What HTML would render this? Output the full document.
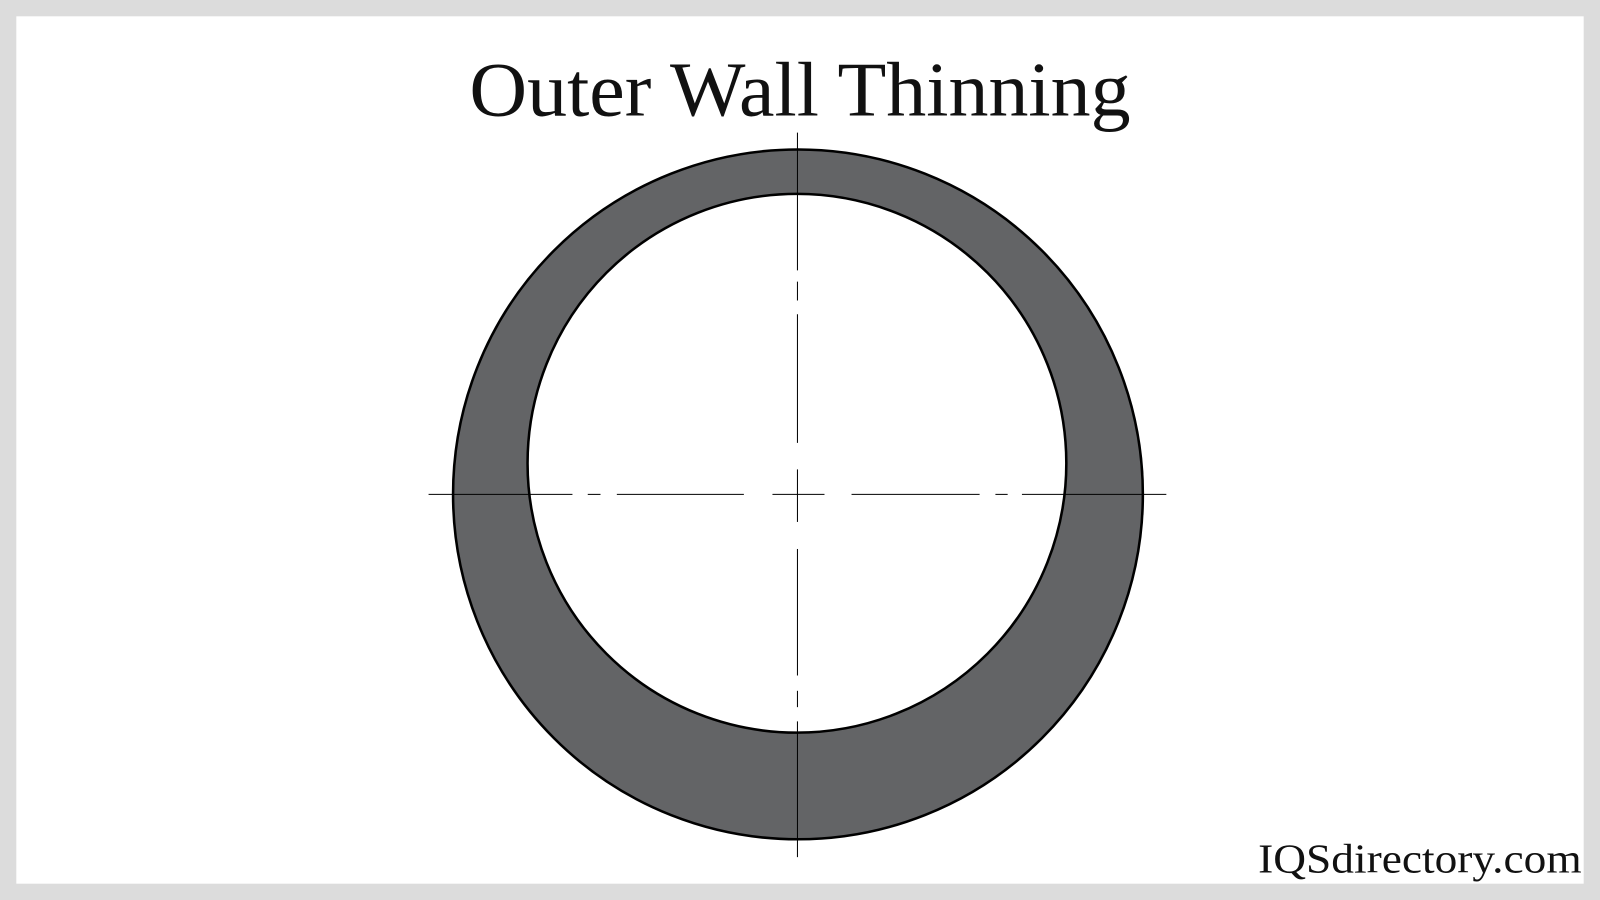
<!DOCTYPE html>
<html><head><meta charset="utf-8"><style>
html,body{margin:0;padding:0;background:#dcdcdc;}
svg{display:block;}
</style></head><body>
<svg width="1600" height="900" viewBox="0 0 1568 882" preserveAspectRatio="none" xmlns="http://www.w3.org/2000/svg">
<rect x="0" y="0" width="1568" height="882" fill="#dcdcdc"/>
<rect x="16" y="16" width="1536" height="850" fill="#ffffff"/>
<text x="784" y="113" text-anchor="middle" font-family="Liberation Serif, serif" font-size="76" fill="#111" textLength="648" lengthAdjust="spacingAndGlyphs">Outer Wall Thinning</text>
<circle cx="782" cy="484.5" r="338" fill="#636466" stroke="#000" stroke-width="2.5"/>
<circle cx="781" cy="454" r="264" fill="#fff" stroke="#000" stroke-width="2.5"/>
<g stroke="#000" stroke-width="1">
<line x1="420" y1="484.5" x2="561" y2="484.5"/>
<line x1="576" y1="484.5" x2="588.5" y2="484.5"/>
<line x1="604.5" y1="484.5" x2="729" y2="484.5"/>
<line x1="757" y1="484.5" x2="808" y2="484.5"/>
<line x1="834.5" y1="484.5" x2="960" y2="484.5"/>
<line x1="975.5" y1="484.5" x2="987.5" y2="484.5"/>
<line x1="1001.5" y1="484.5" x2="1143" y2="484.5"/>
<line x1="781.5" y1="130" x2="781.5" y2="265"/>
<line x1="781.5" y1="276" x2="781.5" y2="294.5"/>
<line x1="781.5" y1="308" x2="781.5" y2="434"/>
<line x1="781.5" y1="460" x2="781.5" y2="511.5"/>
<line x1="781.5" y1="538" x2="781.5" y2="662"/>
<line x1="781.5" y1="677" x2="781.5" y2="693"/>
<line x1="781.5" y1="707" x2="781.5" y2="840"/>
</g>
<text x="1233" y="855" font-family="Liberation Serif, serif" font-size="40" fill="#111" textLength="317" lengthAdjust="spacingAndGlyphs">IQSdirectory.com</text>
</svg>
</body></html>
